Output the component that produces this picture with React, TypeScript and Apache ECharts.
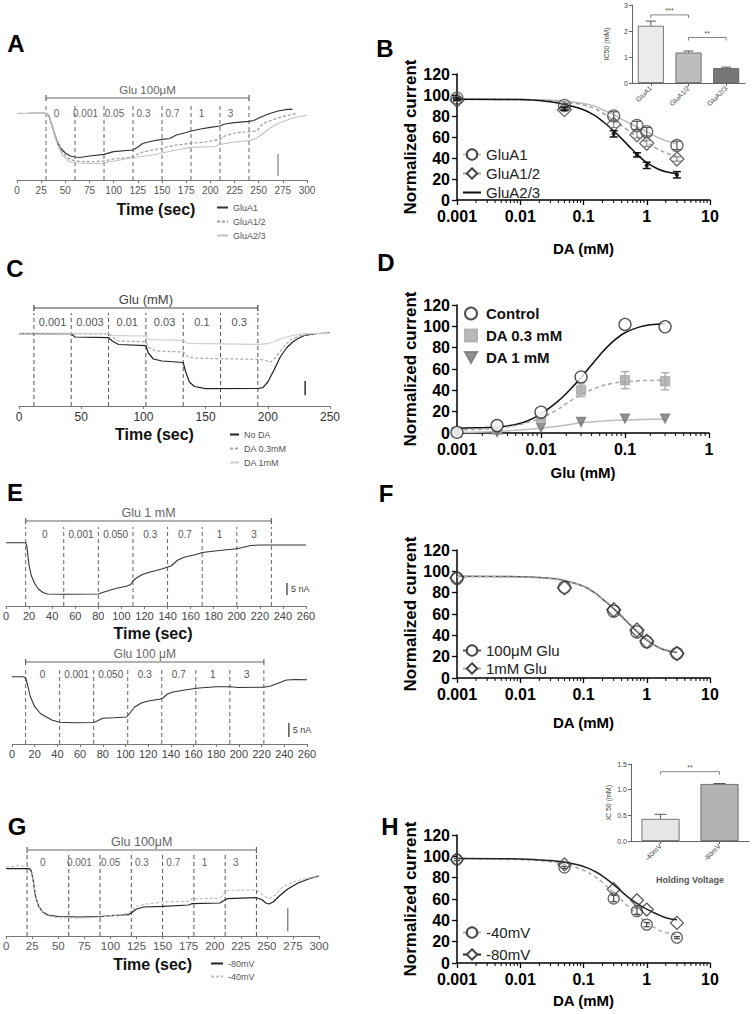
import React, { useEffect, useRef } from "react";
import * as echarts from "echarts";

const FONT = "'Liberation Sans', Arial, Helvetica, sans-serif";

// ---------------- Panel A : current traces (arbitrary units) ----------------
const aGluA1 = [[12,66.7],[30,66.7],[33,64],[36,55],[40,42],[45,32],[50,27],[55,24],[60,23],[65,22.5],[75,24],[90,25.7],[100,28.3],[120,30],[125,33],[130,36.5],[140,39],[150,40.7],[158,41.5],[165,45],[175,47.5],[180,49],[190,51],[200,52.7],[210,54],[215,56],[225,57.3],[240,58.7],[245,59.5],[250,62],[260,66],[270,69],[280,70.7],[285,70.7]];
const aGluA12 = [[25,66.7],[30,66.7],[34,62],[38,50],[42,38],[47,28],[52,22],[60,19],[70,18.3],[80,18.5],[90,19],[100,21],[118,22.7],[125,26],[130,28],[140,30],[150,31.7],[155,33],[165,35],[180,36.7],[195,38],[210,40.7],[215,44],[225,47],[240,48.3],[248,49],[252,54],[258,58],[270,62],[282,65],[290,66.7]];
const aGluA23 = [[0,66.7],[30,66.7],[34,62],[38,48],[42,35],[47,25],[53,19],[60,17],[75,16.5],[90,16.7],[95,18],[118,22],[125,23],[140,25],[150,27],[165,30],[180,32.7],[205,33.5],[210,35.7],[225,38],[240,39.3],[248,42],[255,47],[262,52],[270,56.5],[285,62],[300,65]];
const aSwitchTimes = [30, 60, 90, 120, 150, 180, 210, 240];
const aDoseLabels = ["0", "0.001", "0.05", "0.3", "0.7", "1", "3"];
const aScaleBar = [[270, 4, 26]];

// ---------------- Panel B : DA dose response ----------------
const bDoses = [0.001, 0.05, 0.3, 0.7, 1, 3];
const bGluA1 = [97, 90, 80, 71, 65, 52];
const bGluA1Sem = [1.5, 2, 4, 4, 4, 4];
const bGluA12 = [95, 86, 72, 62, 54, 39];
const bGluA12Sem = [1, 1, 3, 3, 3, 2];
const bGluA23 = [96, 87, 63, 43, 33, 24];
const bGluA23Sem = [1, 1.5, 3, 2, 3, 3];
const fitDoses = [0.001, 0.01, 0.03, 0.05, 0.1, 0.15, 0.2, 0.3, 0.5, 0.7, 1, 1.5, 2, 3];
const bFitGluA1 = [96, 95.8, 95, 94, 92, 89.5, 86, 81, 74, 69.5, 65, 59.5, 56.5, 53.5];
const bFitGluA12 = [96, 95.6, 94.8, 93.5, 90.5, 87, 83, 76, 66.5, 60.5, 54.5, 48.5, 45, 41.5];
const bFitGluA23 = [96, 95.6, 93.5, 91, 86, 80.5, 75, 66, 52.5, 43.5, 35.5, 29.5, 27, 25];
const bInsetCats = ["GluA1", "GluA1/2", "GluA2/3"];
const bInsetIC50 = [2.2, 1.17, 0.57];
const bInsetErr = [0.18, 0.06, 0.04];
const bSigPairs = [[0, 1, 2.62], [1, 2, 1.75]];
const bSigLabels = ["***", "**"];

// ---------------- Panel C : traces ----------------
const cNoDA = [[0,72.3],[42,72.3],[45,69],[72,68.3],[75,65],[80,61.5],[102,60.3],[104,53],[108,47],[115,45],[132,43.5],[134,34],[137,24],[141,19.5],[150,17.3],[192,17.5],[196,18.3],[200,24],[205,36],[210,49],[215,58],[220,64],[225,68],[230,70.7],[240,72.5],[250,73]];
const cDA03 = [[0,72.3],[72,72],[75,69],[80,65],[102,64.3],[104,59],[110,55],[132,54],[135,50],[140,48],[160,47.3],[192,46.7],[198,45.7],[202,43.7],[206,48],[212,58],[218,66],[225,70],[235,72],[250,72.5]];
const cDA1 = [[0,73],[72,72.5],[76,70.3],[102,70],[105,66.3],[132,65.7],[136,62.5],[150,62.3],[192,61.7],[200,62.3],[205,64.5],[212,68],[220,70.5],[230,72.3],[250,72.7]];
const cSwitchTimes = [12, 42, 72, 102, 132, 162, 192];
const cGluLabels = ["0.001", "0.003", "0.01", "0.03", "0.1", "0.3"];
const cScaleBar = [[230, 10.7, 25]];

// ---------------- Panel D : Glu dose response ----------------
const dDoses = [0.001, 0.003, 0.01, 0.03, 0.1, 0.3];
const dControl = [0.6, 7, 19.5, 52.6, 101.8, 99.6];
const dDA03 = [0.5, 3, 15, 40, 49.5, 48.5];
const dDA03Sem = [0.5, 1, 2, 6, 8, 8];
const dDA1 = [0, 1, 5, 10.3, 13.5, 13.5];
const dFitDoses = [0.001, 0.002, 0.003, 0.005, 0.007, 0.01, 0.015, 0.02, 0.03, 0.05, 0.07, 0.1, 0.15, 0.2, 0.3];
const dFitControl = [4.5, 5, 5.5, 8, 11.5, 18, 28, 37, 52, 73, 85, 94, 99.5, 101.5, 102.5];
const dFitDA03 = [3, 3.5, 4.5, 7, 10, 14, 21, 27.5, 36, 43.5, 46.5, 48, 49, 49.3, 49.5];
const dFitDA1 = [0.5, 1, 1.5, 2.5, 3.3, 4.5, 6, 7.5, 9.5, 11, 11.8, 12.3, 12.6, 12.8, 13];

// ---------------- Panel E : traces ----------------
const eTopTrace = [[0,63.3],[17,63.3],[18,60],[19,50],[20,40],[22,30],[25,22],[28,17],[32,13.5],[36,12],[50,11.7],[80,12],[85,14],[95,17.5],[105,20],[108,21.5],[110,25],[113,28],[118,31.5],[125,34],[135,37],[139,38.5],[143,40],[146,43],[149,46],[155,49],[165,51.5],[170,53.5],[185,55.5],[200,57.3],[205,58.5],[212,60.5],[220,61],[260,61]];
const eTopSwitchTimes = [17, 50, 80, 110, 140, 170, 200, 230];
const eBotTrace = [[0,67.3],[10,67.3],[12,66],[14,58],[16,48],[20,37.3],[25,30.5],[30,27.3],[35,24],[42,21.8],[55,21.3],[72,21.5],[75,23],[80,25.7],[90,26.3],[101,27],[104,31],[108,37],[114,41],[120,43],[130,44.7],[133,46],[137,50],[142,52],[155,54.5],[165,56],[180,57.3],[192,57.3],[200,56.5],[222,56.8],[228,58],[235,61],[242,64],[250,64.5],[260,64.3]];
const eBotSwitchTimes = [12, 42, 72, 102, 132, 162, 192, 222];
const eDoseLabels = ["0", "0.001", "0.050", "0.3", "0.7", "1", "3"];
const eTopScaleBar = [[243.5, 11, 23]];
const eBotScaleBar = [[244, 7, 21]];

// ---------------- Panel F ----------------
const fDoses = [0.001, 0.05, 0.3, 0.7, 1, 3];
const f100uM = [93.4, 85, 62.7, 43.2, 33.8, 22.9];
const f1mM = [94, 84.5, 64, 45, 34.5, 23];
const fFit100uM = [95.5, 95, 93.5, 91.5, 86, 80, 74, 65, 52, 43.5, 35.5, 29, 26, 24];
const fFit1mM = [95, 94.5, 93, 91, 86, 80.5, 74.5, 66, 53, 44.5, 36.5, 29.5, 26.5, 24.5];

// ---------------- Panel G : traces ----------------
const g80mV = [[0,67.3],[22,67.3],[24,65],[26,55],[28,40],[31,30],[35,24],[40,21],[50,19.5],[70,19],[90,19.5],[110,21],[117,21.3],[120,23],[125,27],[132,29],[150,29.7],[175,31],[178,32.3],[205,33],[208,35],[212,37.3],[240,38.3],[245,36.5],[249,33],[252,32],[256,34],[262,40],[270,47],[280,53],[290,57],[300,60]];
const g40mV = [[0,69],[8,69.5],[12,71],[16,70],[22,69.7],[24,67],[26,55],[28,40],[32,27],[38,21],[50,18],[70,18],[90,18.7],[110,21.5],[117,22.5],[120,25],[125,29.7],[135,32],[150,34],[175,34.7],[178,37.3],[205,37.8],[208,41],[213,45.7],[240,46],[245,42],[250,38.5],[253,37.7],[258,41],[265,49],[275,54],[285,57],[300,60]];
const gSwitchTimes = [20, 60, 90, 120, 150, 180, 210, 240];
const gDoseLabels = ["0", "0.001", "0.05", "0.3", "0.7", "1", "3"];
const gScaleBar = [[270, 4.7, 27.7]];

// ---------------- Panel H ----------------
const hDoses = [0.001, 0.05, 0.3, 0.7, 1, 3];
const h40mV = [97, 89.6, 60.5, 48.6, 36, 23.8];
const h40mVSem = [1, 1, 3, 3, 2, 1];
const h80mV = [97, 92.4, 69.2, 58.9, 50.1, 37.6];
const hFit40mV = [98, 97, 95, 92.5, 87, 81, 75.5, 66, 53.5, 45.5, 38, 31.5, 28.5, 26.5];
const hFit80mV = [98, 97.5, 96, 94.5, 90.5, 86, 81.5, 73.5, 62, 56, 50.5, 45.5, 42.5, 40.5];
const hInsetCats = ["-40mV", "-80mV"];
const hInsetIC50 = [0.43, 1.11];
const hInsetErr = [0.09, 0.01];
const hSigPairs = [[0, 1, 1.35]];
const hSigLabels = ["**"];

// ---------------- helpers ----------------
const zip = (xs: number[], ys: number[]) => xs.map((x, i) => [x, ys[i]]);
const zip3 = (xs: number[], ys: number[], es: number[]) => xs.map((x, i) => [x, ys[i], es[i]]);
const decadeMinors = (lo: number, hi: number) => {
  const out: number[] = [];
  for (let d = lo; d < hi * 0.999; d *= 10) for (let k = 2; k <= 9; k++) out.push(+(k * d).toPrecision(4));
  return out;
};
const fmtLog = (v: number) => String(parseFloat(Number(v).toPrecision(6)));

function traceX(i: number, max: number, interval: number, font: number, color: string, name: string, nameGap: number, padR: number, margin: number) {
  return {
    type: "value", gridIndex: i, min: 0, max, interval,
    axisLine: { onZero: false, lineStyle: { color: "#777", width: 1 } },
    axisTick: { length: 3, lineStyle: { color: "#777" } },
    axisLabel: { fontSize: font, color, fontFamily: FONT, margin },
    splitLine: { show: false },
    name, nameLocation: "middle", nameGap,
    nameTextStyle: { fontSize: 16, fontWeight: "bold", color: "#111", fontFamily: FONT, padding: [0, padR, 0, 0] },
  };
}
function traceY(i: number, max: number) {
  return { type: "value", gridIndex: i, min: 0, max, show: false, splitLine: { show: false } };
}
function doseX(i: number, max: number, name: string, nameGap: number) {
  return {
    type: "log", logBase: 10, gridIndex: i, min: 0.001, max,
    axisLine: { onZero: false, lineStyle: { color: "#000", width: 1.5 } },
    axisTick: { length: 5, lineStyle: { color: "#000", width: 1.3 } },
    axisLabel: { fontSize: 16, fontWeight: "bold", color: "#000", fontFamily: FONT, margin: 10, lineHeight: 13, formatter: fmtLog },
    splitLine: { show: false }, minorTick: { show: false },
    name, nameLocation: "middle", nameGap,
    nameTextStyle: { fontSize: 15, fontWeight: "bold", color: "#000", fontFamily: FONT },
  };
}
function doseY(i: number) {
  return {
    type: "value", gridIndex: i, min: 0, max: 120, interval: 20,
    axisLine: { show: true, onZero: false, lineStyle: { color: "#000", width: 1.5 } },
    axisTick: { show: true, length: 5, lineStyle: { color: "#000", width: 1.3 } },
    axisLabel: { fontSize: 16, fontWeight: "bold", color: "#000", fontFamily: FONT, margin: 7, lineHeight: 13 },
    splitLine: { show: false },
    name: "Normalized current", nameLocation: "middle", nameGap: 35,
    nameTextStyle: { fontSize: 17, fontWeight: "bold", color: "#000", fontFamily: FONT },
  };
}
function insetX(i: number, cats: string[], name: string, nameGap: number) {
  return {
    type: "category", gridIndex: i, data: cats,
    axisLine: { onZero: false, lineStyle: { color: "#666", width: 1 } },
    axisTick: { show: true, alignWithLabel: true, length: 3, lineStyle: { color: "#666" } },
    axisLabel: { rotate: 45, fontSize: 7, color: "#444", fontFamily: FONT, margin: 4, interval: 0 },
    name, nameLocation: "middle", nameGap,
    nameTextStyle: { fontSize: 9, fontWeight: "bold", color: "#555", fontFamily: FONT },
  };
}
function insetY(i: number, max: number, interval: number, name: string, fixed: boolean, nameGap: number) {
  return {
    type: "value", gridIndex: i, min: 0, max, interval,
    axisLine: { show: true, onZero: false, lineStyle: { color: "#666", width: 1 } },
    axisTick: { show: true, length: 3, lineStyle: { color: "#666" } },
    axisLabel: { fontSize: 7, color: "#444", fontFamily: FONT, margin: 4, formatter: fixed ? (v: number) => v.toFixed(1) : undefined },
    splitLine: { show: false },
    name, nameLocation: "middle", nameGap,
    nameTextStyle: { fontSize: 7, color: "#444", fontFamily: FONT },
  };
}

function bracketSeries(ax: number, data: number[][], texts: string[], o: any) {
  return {
    type: "custom", xAxisIndex: ax, yAxisIndex: ax, silent: true, z: 6, clip: false,
    encode: { x: [0, 1], y: 2 }, data,
    renderItem: (params: any, api: any) => {
      const p1 = api.coord([api.value(0), api.value(2)]);
      const p2 = api.coord([api.value(1), api.value(2)]);
      const st = { stroke: o.color, lineWidth: o.lw };
      return {
        type: "group", children: [
          { type: "line", shape: { x1: p1[0], y1: p1[1], x2: p2[0], y2: p2[1] }, style: st },
          { type: "line", shape: { x1: p1[0], y1: p1[1] - o.up, x2: p1[0], y2: p1[1] + o.down }, style: st },
          { type: "line", shape: { x1: p2[0], y1: p2[1] - o.up, x2: p2[0], y2: p2[1] + o.down }, style: st },
          { type: "text", x: (p1[0] + p2[0]) / 2, y: p1[1] - o.gap, style: { text: texts[params.dataIndex], fill: o.textColor, fontSize: o.font, fontFamily: FONT, align: "center", verticalAlign: "bottom" } },
        ],
      };
    },
  };
}
function dashSeries(ax: number, times: number[], top: number, color: string) {
  return {
    type: "custom", xAxisIndex: ax, yAxisIndex: ax, silent: true, z: 1, clip: false,
    encode: { x: 0, y: 1 }, data: times.map((t) => [t, top]),
    renderItem: (params: any, api: any) => {
      const p0 = api.coord([api.value(0), 0]);
      const p1 = api.coord([api.value(0), api.value(1)]);
      return { type: "line", shape: { x1: p0[0], y1: p0[1], x2: p1[0], y2: p1[1] }, style: { stroke: color, lineWidth: 1, lineDash: [4, 3] } };
    },
  };
}
function labelSeries(ax: number, times: number[], labels: string[], y: number, font: number, color: string, shift: number) {
  return {
    type: "custom", xAxisIndex: ax, yAxisIndex: ax, silent: true, z: 6, clip: false,
    encode: { x: 0, y: 1 }, data: labels.map((_, i) => [(times[i] + times[i + 1]) / 2, y]),
    renderItem: (params: any, api: any) => {
      const p = api.coord([api.value(0), api.value(1)]);
      return { type: "text", x: p[0] + shift, y: p[1], style: { text: labels[params.dataIndex], fill: color, fontSize: font, fontFamily: FONT, align: "center", verticalAlign: "middle" } };
    },
  };
}
function scaleBarSeries(ax: number, data: number[][], color: string, label: string) {
  return {
    type: "custom", xAxisIndex: ax, yAxisIndex: ax, silent: true, z: 6, clip: false,
    encode: { x: 0, y: [1, 2] }, data,
    renderItem: (params: any, api: any) => {
      const p1 = api.coord([api.value(0), api.value(1)]);
      const p2 = api.coord([api.value(0), api.value(2)]);
      const children: any[] = [{ type: "line", shape: { x1: p1[0], y1: p1[1], x2: p2[0], y2: p2[1] }, style: { stroke: color, lineWidth: 1.5 } }];
      if (label) children.push({ type: "text", x: p1[0] + 4, y: (p1[1] + p2[1]) / 2, style: { text: label, fill: "#444", fontSize: 9, fontFamily: FONT, align: "left", verticalAlign: "middle" } });
      return { type: "group", children };
    },
  };
}
function errSeries(ax: number, data: number[][], color: string, cap: number, lw: number, upOnly: boolean, z: number) {
  return {
    type: "custom", xAxisIndex: ax, yAxisIndex: ax, silent: true, z, clip: false,
    encode: { x: 0, y: 1 }, data,
    renderItem: (params: any, api: any) => {
      const x = api.value(0), y = api.value(1), e = api.value(2);
      const top = api.coord([x, y + e]);
      const bot = upOnly ? api.coord([x, y]) : api.coord([x, y - e]);
      const st = { stroke: color, lineWidth: lw };
      const ch: any[] = [
        { type: "line", shape: { x1: top[0], y1: top[1], x2: bot[0], y2: bot[1] }, style: st },
        { type: "line", shape: { x1: top[0] - cap, y1: top[1], x2: top[0] + cap, y2: top[1] }, style: st },
      ];
      if (!upOnly) ch.push({ type: "line", shape: { x1: bot[0] - cap, y1: bot[1], x2: bot[0] + cap, y2: bot[1] }, style: st });
      return { type: "group", children: ch };
    },
  };
}
function minorTickSeries(ax: number, values: number[]) {
  return {
    type: "custom", xAxisIndex: ax, yAxisIndex: ax, silent: true, z: 3, clip: false,
    encode: { x: 0, y: 1 }, data: values.map((v) => [v, 0]),
    renderItem: (params: any, api: any) => {
      const p = api.coord([api.value(0), 0]);
      return { type: "line", shape: { x1: p[0], y1: p[1], x2: p[0], y2: p[1] + 3 }, style: { stroke: "#000", lineWidth: 1 } };
    },
  };
}
function trace(name: string, ax: number, data: number[][], color: string, dashed: boolean, width = 1.2) {
  return {
    name, type: "line", xAxisIndex: ax, yAxisIndex: ax, data, symbol: "none", showSymbol: false, z: 3,
    lineStyle: { color, width, type: dashed ? [3, 2] : "solid" }, itemStyle: { color },
  };
}
function curve(name: string, ax: number, xs: number[], ys: number[], color: string, dashed: boolean, symbol: string) {
  return {
    name, type: "line", xAxisIndex: ax, yAxisIndex: ax, data: zip(xs, ys), smooth: 0.4,
    symbol, symbolSize: 11, showSymbol: false, z: 2,
    lineStyle: { color, width: 1.5, type: dashed ? [4, 3] : "solid" }, itemStyle: { color: "#444" },
  };
}
function points(name: string, ax: number, xs: number[], ys: number[], symbol: string, size: number, fill: string, border: string, z = 4) {
  return {
    name, type: "scatter", xAxisIndex: ax, yAxisIndex: ax, data: zip(xs, ys), symbol, symbolSize: size, z,
    itemStyle: { color: fill, borderColor: border, borderWidth: 1.3 },
  };
}

const TRI_DOWN = "path://M0,0 L10,0 L5,9 Z";
const bInsetColors = ["#ebebeb", "#bdbdbd", "#777777"];
const hInsetColors = ["#e6e6e6", "#b3b3b3"];
const strip = (n: string) => n.split("|")[1];

function buildOption() {
  const grid = [
    { left: 17, top: 80, width: 290, height: 100 },
    { left: 457, top: 74, width: 253, height: 126 },
    { left: 632, top: 5, width: 113, height: 78 },
    { left: 19, top: 296, width: 311, height: 110 },
    { left: 457, top: 305, width: 252, height: 128 },
    { left: 6, top: 506, width: 300, height: 100 },
    { left: 12, top: 644, width: 295, height: 100 },
    { left: 457, top: 550, width: 253, height: 128 },
    { left: 5, top: 826, width: 314, height: 110 },
    { left: 457, top: 835, width: 253, height: 128 },
    { left: 631, top: 764, width: 118, height: 77 },
  ];
  const xAxis = [
    traceX(0, 300, 25, 10, "#555", "Time (sec)", 21, 12, 5),
    doseX(1, 10, "DA (mM)", 41),
    insetX(2, bInsetCats, "", 20),
    traceX(3, 250, 50, 12, "#333", "Time (sec)", 20, 40, 5),
    doseX(4, 1, "Glu (mM)", 32),
    traceX(5, 260, 20, 11, "#444", "Time (sec)", 19, 6, 4),
    traceX(6, 260, 20, 11, "#444", "", 19, 0, 4),
    doseX(7, 10, "DA (mM)", 37),
    traceX(8, 300, 25, 11.5, "#555", "Time (sec)", 20, 20, 4),
    doseX(9, 10, "DA (mM)", 30),
    insetX(10, hInsetCats, "Holding Voltage", 34),
  ];
  const yAxis = [
    traceY(0, 100), doseY(1), insetY(2, 3, 1, "IC50 (mM)", false, 22), traceY(3, 110), doseY(4),
    traceY(5, 100), traceY(6, 100), doseY(7), traceY(8, 110), doseY(9), insetY(10, 1.5, 0.5, "IC 50 (mM)", true, 19),
  ];

  const gluStyle = (font: number, color: string) => ({ up: 3, down: 3, gap: 2, font, color, textColor: color, lw: 1.2 });
  const sigStyle = { up: 0, down: 3, gap: 1, font: 7, color: "#666", textColor: "#555", lw: 0.8 };

  const series: any[] = [
    // A
    trace("A|GluA1", 0, aGluA1, "#333", false),
    trace("A|GluA1/2", 0, aGluA12, "#9a9a9a", true),
    trace("A|GluA2/3", 0, aGluA23, "#c4c4c4", false),
    bracketSeries(0, [[aSwitchTimes[0], aSwitchTimes[aSwitchTimes.length - 1], 82]], ["Glu 100μM"], gluStyle(11.5, "#666")),
    dashSeries(0, aSwitchTimes, 77, "#666"),
    labelSeries(0, aSwitchTimes, aDoseLabels, 67, 10, "#666", -4),
    scaleBarSeries(0, aScaleBar, "#999", ""),
    // B
    curve("B|GluA1", 1, fitDoses, bFitGluA1, "#bdbdbd", false, "emptyCircle"),
    curve("B|GluA1/2", 1, fitDoses, bFitGluA12, "#a0a0a0", true, "emptyDiamond"),
    curve("B|GluA2/3", 1, fitDoses, bFitGluA23, "#111", false, "none"),
    points("B|pGluA1", 1, bDoses, bGluA1, "circle", 12, "rgba(255,255,255,0)", "#444"),
    points("B|pGluA12", 1, bDoses, bGluA12, "diamond", 14, "rgba(255,255,255,0)", "#444"),
    points("B|pGluA23", 1, bDoses, bGluA23, "circle", 3, "#111", "#111"),
    errSeries(1, zip3(bDoses, bGluA1, bGluA1Sem), "#555", 4, 1.2, false, 5),
    errSeries(1, zip3(bDoses, bGluA12, bGluA12Sem), "#777", 4, 1, false, 5),
    errSeries(1, zip3(bDoses, bGluA23, bGluA23Sem), "#111", 4, 1.5, false, 5),
    minorTickSeries(1, decadeMinors(0.001, 10)),
    // B inset
    {
      type: "bar", xAxisIndex: 2, yAxisIndex: 2, barWidth: 26, z: 2,
      data: bInsetIC50.map((v, i) => ({ value: v, itemStyle: { color: bInsetColors[i] } })),
      itemStyle: { borderColor: "#555", borderWidth: 0.8 },
    },
    errSeries(2, bInsetIC50.map((v, i) => [i, v, bInsetErr[i]]), "#555", 5, 1, true, 5),
    bracketSeries(2, bSigPairs, bSigLabels, sigStyle),
    // C
    trace("C|No DA", 3, cNoDA, "#222", false),
    trace("C|DA 0.3mM", 3, cDA03, "#a8a8a8", true),
    trace("C|DA 1mM", 3, cDA1, "#cfcfcf", false),
    bracketSeries(3, [[cSwitchTimes[0], cSwitchTimes[cSwitchTimes.length - 1], 98]], ["Glu (mM)"], gluStyle(13, "#444")),
    dashSeries(3, cSwitchTimes, 93, "#555"),
    labelSeries(3, cSwitchTimes, cGluLabels, 84, 11, "#555", 0),
    scaleBarSeries(3, cScaleBar, "#333", ""),
    // D
    curve("D|fitControl", 4, dFitDoses, dFitControl, "#111", false, "none"),
    curve("D|fitDA03", 4, dFitDoses, dFitDA03, "#a8a8a8", true, "none"),
    curve("D|fitDA1", 4, dFitDoses, dFitDA1, "#bdbdbd", false, "none"),
    errSeries(4, zip3(dDoses, dDA03, dDA03Sem), "#a8a8a8", 4, 1.3, false, 3),
    points("D|Control", 4, dDoses, dControl, "circle", 12, "#fff", "#222", 5),
    points("D|DA 0.3 mM", 4, dDoses, dDA03, "rect", 9, "#a8a8a8", "#a8a8a8"),
    points("D|DA 1 mM", 4, dDoses, dDA1, TRI_DOWN, 9, "#777", "#777"),
    minorTickSeries(4, decadeMinors(0.001, 1)),
    // E top
    trace("E|top", 5, eTopTrace, "#333", false, 1.1),
    bracketSeries(5, [[eTopSwitchTimes[0], eTopSwitchTimes[eTopSwitchTimes.length - 1], 85]], ["Glu 1 mM"], gluStyle(12.5, "#666")),
    dashSeries(5, eTopSwitchTimes, 79, "#666"),
    labelSeries(5, eTopSwitchTimes, eDoseLabels, 72, 10, "#555", 0),
    scaleBarSeries(5, eTopScaleBar, "#555", "5 nA"),
    // E bottom
    trace("E|bot", 6, eBotTrace, "#333", false, 1.1),
    bracketSeries(6, [[eBotSwitchTimes[0], eBotSwitchTimes[eBotSwitchTimes.length - 1], 82]], ["Glu 100 μM"], gluStyle(12, "#666")),
    dashSeries(6, eBotSwitchTimes, 77, "#666"),
    labelSeries(6, eBotSwitchTimes, eDoseLabels, 70, 10, "#555", 0),
    scaleBarSeries(6, eBotScaleBar, "#555", "5 nA"),
    // F
    curve("F|100μM Glu", 7, fitDoses, fFit100uM, "#555", false, "emptyCircle"),
    curve("F|1mM Glu", 7, fitDoses, fFit1mM, "#aaa", true, "emptyDiamond"),
    points("F|p100", 7, fDoses, f100uM, "circle", 12, "rgba(255,255,255,0)", "#333"),
    points("F|p1m", 7, fDoses, f1mM, "diamond", 14, "rgba(255,255,255,0)", "#333"),
    minorTickSeries(7, decadeMinors(0.001, 10)),
    // G
    trace("G|-80mV", 8, g80mV, "#222", false),
    trace("G|-40mV", 8, g40mV, "#bdbdbd", true),
    bracketSeries(8, [[gSwitchTimes[0], gSwitchTimes[gSwitchTimes.length - 1], 86]], ["Glu 100μM"], gluStyle(12.5, "#666")),
    dashSeries(8, gSwitchTimes, 81, "#555"),
    labelSeries(8, gSwitchTimes, gDoseLabels, 74, 10, "#666", -5),
    scaleBarSeries(8, gScaleBar, "#888", ""),
    // H
    curve("H|-40mV", 9, fitDoses, hFit40mV, "#aaa", true, "emptyCircle"),
    curve("H|-80mV", 9, fitDoses, hFit80mV, "#222", false, "emptyDiamond"),
    errSeries(9, zip3(hDoses, h40mV, h40mVSem), "#444", 3, 1.2, false, 5),
    points("H|p40", 9, hDoses, h40mV, "circle", 11, "rgba(255,255,255,0)", "#444"),
    points("H|p80", 9, hDoses, h80mV, "diamond", 13, "rgba(255,255,255,0)", "#333"),
    minorTickSeries(9, decadeMinors(0.001, 10)),
    // H inset
    {
      type: "bar", xAxisIndex: 10, yAxisIndex: 10, barWidth: 38, z: 2,
      data: hInsetIC50.map((v, i) => ({ value: v, itemStyle: { color: hInsetColors[i] } })),
      itemStyle: { borderColor: "#555", borderWidth: 0.8 },
    },
    errSeries(10, hInsetIC50.map((v, i) => [i, v, hInsetErr[i]]), "#555", 6, 1, true, 5),
    bracketSeries(10, hSigPairs, hSigLabels, sigStyle),
  ];

  const lb = { orient: "vertical", selectedMode: false, formatter: strip, padding: 0 };
  const smallText = { fontSize: 9, color: "#555", fontFamily: FONT };
  const bigText = { fontSize: 15, color: "#222", fontFamily: FONT };
  const legend = [
    { ...lb, data: ["A|GluA1", "A|GluA1/2", "A|GluA2/3"], left: 216, top: 203, itemWidth: 11, itemHeight: 8, itemGap: 5, itemStyle: { opacity: 0 }, textStyle: smallText },
    { ...lb, data: ["B|GluA1", "B|GluA1/2", { name: "B|GluA2/3", itemStyle: { opacity: 0 } }], left: 462, top: 147, itemWidth: 18, itemHeight: 13, itemGap: 4, textStyle: bigText },
    { ...lb, data: ["C|No DA", "C|DA 0.3mM", "C|DA 1mM"], left: 229, top: 430, itemWidth: 9, itemHeight: 8, itemGap: 5, itemStyle: { opacity: 0 }, textStyle: smallText },
    { ...lb, data: ["D|Control", "D|DA 0.3 mM", "D|DA 1 mM"], left: 464, top: 306, itemWidth: 12, itemHeight: 12, itemGap: 7, textStyle: { ...bigText, fontWeight: "bold", color: "#111", padding: [0, 0, 0, 4] } },
    { ...lb, data: ["F|100μM Glu", "F|1mM Glu"], left: 462, top: 643, itemWidth: 18, itemHeight: 13, itemGap: 3, textStyle: bigText },
    { ...lb, data: ["G|-80mV", "G|-40mV"], left: 210, top: 959, itemWidth: 12, itemHeight: 8, itemGap: 4, itemStyle: { opacity: 0 }, textStyle: smallText },
    { ...lb, data: ["H|-40mV", "H|-80mV"], left: 462, top: 925, itemWidth: 18, itemHeight: 13, itemGap: 7, textStyle: bigText },
  ];

  const letter = (t: string, x: number, y: number) => ({
    type: "text", x, y, silent: true,
    style: { text: t, fill: "#000", fontSize: 24, fontWeight: "bold", fontFamily: FONT, align: "center", verticalAlign: "middle" },
  });
  const graphic = [
    letter("A", 16, 43), letter("B", 385, 48), letter("C", 15, 268), letter("D", 386, 262),
    letter("E", 15, 492), letter("F", 386, 493), letter("G", 17, 826), letter("H", 390, 826),
  ];

  return { animation: false, backgroundColor: "#fff", textStyle: { fontFamily: FONT }, grid, xAxis, yAxis, series, legend, graphic };
}

export default function App() {
  const ref = useRef<HTMLDivElement>(null);
  useEffect(() => {
    if (!ref.current) return;
    const chart = echarts.init(ref.current, undefined, { renderer: "svg" });
    chart.setOption(buildOption() as any);
    return () => chart.dispose();
  }, []);
  return <div ref={ref} style={{ position: "absolute", left: 0, top: 0, width: 755, height: 1014, background: "#fff" }} />;
}
